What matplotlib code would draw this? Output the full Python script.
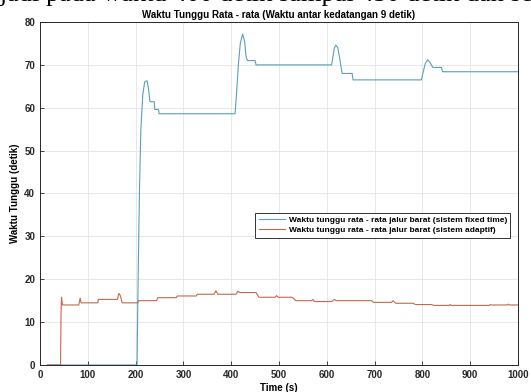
import matplotlib
matplotlib.use("Agg")
import matplotlib.pyplot as plt

# Waktu tunggu rata-rata jalur barat, sistem fixed time
fixed_t = [15, 203, 205, 208, 211, 215, 219, 224, 227, 230, 239, 240, 248, 249,
           408, 411, 415, 419, 424, 428, 431, 434, 450, 452,
           610, 613, 616, 619, 623, 627, 632, 653, 655,
           798, 802, 806, 811, 816, 822, 840, 842, 1000]
fixed_v = [0, 0, 18, 40, 55, 63, 66, 66.3, 64.5, 61.4, 61.4, 59.6, 59.6, 58.6,
           58.6, 63, 70, 75, 77.2, 75.5, 72, 71, 71, 70.0,
           70.0, 72, 74, 74.6, 74, 71.5, 68, 68, 66.5,
           66.5, 68.5, 70.3, 71.2, 70.5, 69.4, 69.4, 68.4, 68.4]

# Waktu tunggu rata-rata jalur barat, sistem adaptif
adapt_t = [15, 43, 44, 45, 47, 81, 84, 86, 121, 122, 162, 165, 168, 172, 205, 206,
           244, 246, 285, 287, 327, 329, 364, 368, 372, 410, 414, 418, 452, 458,
           492, 495, 498, 528, 535, 568, 571, 574, 610, 616, 620, 694, 698, 735,
           739, 744, 780, 786, 818, 825, 856, 858, 860, 940, 942, 944, 978, 980,
           982, 1000]
adapt_v = [0, 0, 12, 15.8, 14.0, 14.0, 15.6, 14.5, 14.5, 15.3, 15.3, 16.7, 16.2, 14.5, 14.5, 15.0,
           15.0, 15.7, 15.7, 16.1, 16.1, 16.5, 16.5, 17.3, 16.5, 16.5, 17.2, 16.9, 16.9, 15.8,
           15.8, 16.2, 15.8, 15.8, 15.0, 15.0, 15.3, 14.8, 14.8, 15.3, 15.0, 15.0, 14.6, 14.6,
           15.0, 14.4, 14.4, 14.1, 14.1, 13.9, 13.9, 14.1, 13.9, 13.9, 14.1, 14.0, 14.0, 14.2,
           14.0, 14.0]

x_ticks = list(range(0, 1001, 100))
y_ticks = list(range(0, 81, 10))

plt.rcParams['font.family'] = ['Liberation Sans', 'DejaVu Sans']
plt.rcParams['font.weight'] = 'bold'

fig = plt.figure(figsize=(5.31, 3.92), dpi=100)
ax = fig.add_axes([40 / 531, 27 / 392, 478 / 531, 343 / 392])

ax.plot(fixed_t, fixed_v, color='#5a9fb8', lw=0.8,
        label='Waktu tunggu rata - rata jalur barat (sistem fixed time)')
ax.plot(adapt_t, adapt_v, color='#c4694a', lw=0.8,
        label='Waktu tunggu rata - rata jalur barat (sistem adaptif)')

ax.set_xlim(0, 1000)
ax.set_ylim(0, 80)
ax.set_xticks(x_ticks)
ax.set_yticks(y_ticks)
ax.tick_params(direction='in', length=3, labelsize=7, colors='#262626', width=0.6)
ax.grid(True, color='#e4e4e4', lw=0.6)
for s in ax.spines.values():
    s.set_color('#262626')
    s.set_linewidth(0.7)

ax.set_title('Waktu Tunggu Rata - rata (Waktu antar kedatangan 9 detik)',
             fontsize=7, fontweight='bold', pad=3)
ax.set_xlabel('Time (s)', fontsize=7, fontweight='bold', labelpad=2)
ax.set_ylabel('Waktu Tunggu (detik)', fontsize=7, fontweight='bold', labelpad=3)

leg = ax.legend(loc='upper left', bbox_to_anchor=(0.442, 0.455), fontsize=6,
                frameon=True, fancybox=False, framealpha=1, edgecolor='#333333',
                handlelength=3.2, borderpad=0.4, labelspacing=0.25, handletextpad=0.4)
leg.get_frame().set_linewidth(0.7)

# potongan teks dokumen di atas gambar (terpotong seperti pada sumbernya)
fig.text(-0.052, 0.997, 'terjadi pada waktu 400 detik sampai 450 detik dan seb',
         family=['Liberation Serif', 'DejaVu Serif'], fontweight='normal',
         fontsize=19, va='baseline', ha='left')

fig.savefig('out.png', dpi=100)
